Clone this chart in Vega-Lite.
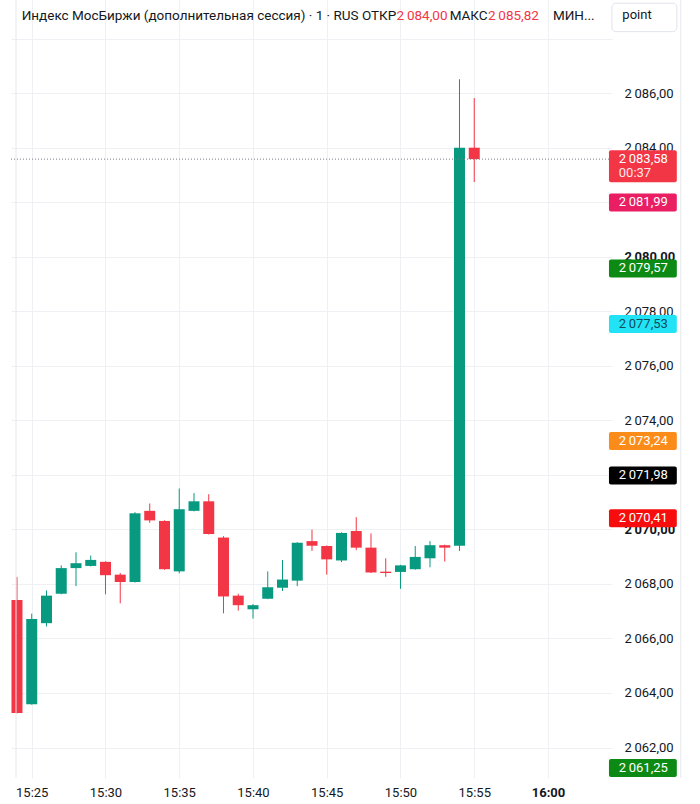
{
  "$schema": "https://vega.github.io/schema/vega-lite/v6.json",
  "description": "MOEX index, additional session, 1-minute candles",
  "width": 601,
  "height": 778,
  "autosize": "none",
  "padding": {"left": 11, "top": 0, "right": 88, "bottom": 26},
  "background": "white",
  "config": {
    "view": {"stroke": null},
    "font": "Roboto"
  },
  "datasets": {
    "candles": [
      {"t": "2024-01-01T15:24:00", "open": 2067.41, "high": 2068.26, "low": 2063.25, "close": 2063.27},
      {"t": "2024-01-01T15:25:00", "open": 2063.59, "high": 2066.91, "low": 2063.57, "close": 2066.71},
      {"t": "2024-01-01T15:26:00", "open": 2066.56, "high": 2067.76, "low": 2066.44, "close": 2067.57},
      {"t": "2024-01-01T15:27:00", "open": 2067.64, "high": 2068.68, "low": 2067.62, "close": 2068.58},
      {"t": "2024-01-01T15:28:00", "open": 2068.58, "high": 2069.16, "low": 2067.92, "close": 2068.76},
      {"t": "2024-01-01T15:29:00", "open": 2068.66, "high": 2069.04, "low": 2068.64, "close": 2068.88},
      {"t": "2024-01-01T15:30:00", "open": 2068.81, "high": 2068.83, "low": 2067.62, "close": 2068.32},
      {"t": "2024-01-01T15:31:00", "open": 2068.34, "high": 2068.4, "low": 2067.29, "close": 2068.07},
      {"t": "2024-01-01T15:32:00", "open": 2068.07, "high": 2070.63, "low": 2068.05, "close": 2070.59},
      {"t": "2024-01-01T15:33:00", "open": 2070.68, "high": 2070.95, "low": 2070.24, "close": 2070.33},
      {"t": "2024-01-01T15:34:00", "open": 2070.31, "high": 2070.33, "low": 2068.52, "close": 2068.54},
      {"t": "2024-01-01T15:35:00", "open": 2068.46, "high": 2071.5, "low": 2068.39, "close": 2070.74},
      {"t": "2024-01-01T15:36:00", "open": 2070.68, "high": 2071.33, "low": 2070.66, "close": 2071.03},
      {"t": "2024-01-01T15:37:00", "open": 2071.03, "high": 2071.29, "low": 2069.81, "close": 2069.83},
      {"t": "2024-01-01T15:38:00", "open": 2069.7, "high": 2069.75, "low": 2066.92, "close": 2067.54},
      {"t": "2024-01-01T15:39:00", "open": 2067.57, "high": 2067.64, "low": 2067.02, "close": 2067.22},
      {"t": "2024-01-01T15:40:00", "open": 2067.07, "high": 2067.26, "low": 2066.73, "close": 2067.22},
      {"t": "2024-01-01T15:41:00", "open": 2067.46, "high": 2068.46, "low": 2067.44, "close": 2067.88},
      {"t": "2024-01-01T15:42:00", "open": 2067.86, "high": 2068.88, "low": 2067.74, "close": 2068.16},
      {"t": "2024-01-01T15:43:00", "open": 2068.12, "high": 2069.53, "low": 2067.92, "close": 2069.51},
      {"t": "2024-01-01T15:44:00", "open": 2069.57, "high": 2069.99, "low": 2069.21, "close": 2069.4},
      {"t": "2024-01-01T15:45:00", "open": 2069.39, "high": 2069.41, "low": 2068.34, "close": 2068.9},
      {"t": "2024-01-01T15:46:00", "open": 2068.86, "high": 2069.89, "low": 2068.8, "close": 2069.87},
      {"t": "2024-01-01T15:47:00", "open": 2069.94, "high": 2070.45, "low": 2069.24, "close": 2069.33},
      {"t": "2024-01-01T15:48:00", "open": 2069.33, "high": 2069.85, "low": 2068.4, "close": 2068.42},
      {"t": "2024-01-01T15:49:00", "open": 2068.45, "high": 2068.94, "low": 2068.26, "close": 2068.4},
      {"t": "2024-01-01T15:50:00", "open": 2068.44, "high": 2068.7, "low": 2067.82, "close": 2068.68},
      {"t": "2024-01-01T15:51:00", "open": 2068.54, "high": 2069.39, "low": 2068.52, "close": 2068.99},
      {"t": "2024-01-01T15:52:00", "open": 2068.94, "high": 2069.57, "low": 2068.61, "close": 2069.42},
      {"t": "2024-01-01T15:53:00", "open": 2069.42, "high": 2069.44, "low": 2068.82, "close": 2069.33},
      {"t": "2024-01-01T15:54:00", "open": 2069.4, "high": 2086.51, "low": 2069.21, "close": 2084.0},
      {"t": "2024-01-01T15:55:00", "open": 2084.0, "high": 2085.82, "low": 2082.74, "close": 2083.58}
    ],
    "levels": [
      {"level": "last", "price": 2083.58, "label": "2\u2009083,58", "note": "00:37"},
      {"level": "L1", "price": 2081.99, "label": "2\u2009081,99"},
      {"level": "L2", "price": 2079.57, "label": "2\u2009079,57"},
      {"level": "L3", "price": 2077.53, "label": "2\u2009077,53"},
      {"level": "L4", "price": 2073.24, "label": "2\u2009073,24"},
      {"level": "L5", "price": 2071.98, "label": "2\u2009071,98"},
      {"level": "L6", "price": 2070.41, "label": "2\u2009070,41"},
      {"level": "L7", "price": 2061.25, "label": "2\u2009061,25"}
    ]
  },
  "layer": [
    {
      "data": {"name": "candles"},
      "mark": {"type": "rule", "strokeWidth": 1},
      "encoding": {
        "x": {
          "field": "t", "type": "temporal",
          "scale": {"domain": [
            {"year": 2024, "month": 1, "date": 1, "hours": 15, "minutes": 23, "seconds": 56},
            {"year": 2024, "month": 1, "date": 1, "hours": 16, "minutes": 4}
          ]},
          "axis": {
            "title": null, "format": "%H:%M", "tickCount": 8,
            "grid": true, "gridColor": "#eef0f3", "domain": false, "ticks": false,
            "labelPadding": 8, "labelFontSize": 13, "labelColor": "#131722", "labelFlush": false,
            "labelFontWeight": {"condition": {"test": "minutes(datum.value) === 0", "value": "bold"}, "value": "normal"}
          }
        },
        "y": {
          "field": "low", "type": "quantitative",
          "scale": {"domain": [2061.065, 2089.233], "nice": false, "zero": false},
          "axis": {
            "title": null, "orient": "right",
            "values": [2062, 2064, 2066, 2068, 2070, 2072, 2074, 2076, 2078, 2080, 2082, 2084, 2086, 2088],
            "labelExpr": "datum.value > 2087 || datum.value === 2072 || datum.value === 2082 ? '' : replace(replace(format(datum.value, ',.2f'), ',', '\u2009'), '.', ',')",
            "grid": true, "gridColor": "#eef0f3", "domain": false, "ticks": false,
            "labelPadding": 12, "labelFontSize": 13, "labelColor": "#131722",
            "labelFontWeight": {"condition": {"test": "datum.value % 10 === 0", "value": "bold"}, "value": "normal"}
          }
        },
        "y2": {"field": "high"},
        "color": {"condition": {"test": "datum.close > datum.open", "value": "#089981"}, "value": "#f23645"}
      }
    },
    {
      "data": {"name": "candles"},
      "mark": {"type": "bar", "width": 11},
      "encoding": {
        "x": {"field": "t", "type": "temporal"},
        "y": {"field": "open", "type": "quantitative"},
        "y2": {"field": "close"},
        "color": {"condition": {"test": "datum.close > datum.open", "value": "#089981"}, "value": "#f23645"}
      }
    },
    {
      "data": {"values": [{}]},
      "mark": {"type": "rule", "color": "#e6e8ec", "strokeWidth": 1},
      "encoding": {
        "x": {"datum": {"year": 2024, "month": 1, "date": 1, "hours": 15, "minutes": 23, "seconds": 56}, "type": "temporal"}
      }
    },
    {
      "data": {"values": [{}]},
      "mark": {"type": "rule", "color": "#e6e8ec", "strokeWidth": 1},
      "encoding": {
        "x": {"datum": {"year": 2024, "month": 1, "date": 1, "hours": 16, "minutes": 9, "seconds": 0}, "type": "temporal"}
      }
    },
    {
      "data": {"name": "levels"},
      "transform": [{"filter": "datum.level === 'last'"}],
      "mark": {"type": "rule", "strokeDash": [1, 2], "color": "#787b86", "strokeWidth": 1},
      "encoding": {"y": {"field": "price", "type": "quantitative"}}
    },
    {
      "data": {"name": "levels"},
      "transform": [{"filter": "datum.level !== 'last'"}],
      "mark": {"type": "bar", "height": 18, "cornerRadius": 2},
      "encoding": {
        "x": {"datum": {"year": 2024, "month": 1, "date": 1, "hours": 16, "minutes": 4, "seconds": 8}, "type": "temporal"},
        "x2": {"datum": {"year": 2024, "month": 1, "date": 1, "hours": 16, "minutes": 8, "seconds": 44}},
        "y": {"field": "price", "type": "quantitative"},
        "color": {
          "field": "level", "type": "nominal", "legend": null,
          "scale": {
            "domain": ["last", "L1", "L2", "L3", "L4", "L5", "L6", "L7"],
            "range": ["#f23645", "#e91e63", "#0c8a14", "#22e3f5", "#fb8c1a", "#000000", "#f70d0d", "#0c8a14"]
          }
        }
      }
    },
    {
      "data": {"name": "levels"},
      "transform": [{"filter": "datum.level === 'last'"}],
      "mark": {"type": "bar", "height": 32, "cornerRadius": 2, "yOffset": 7},
      "encoding": {
        "x": {"datum": {"year": 2024, "month": 1, "date": 1, "hours": 16, "minutes": 4, "seconds": 8}, "type": "temporal"},
        "x2": {"datum": {"year": 2024, "month": 1, "date": 1, "hours": 16, "minutes": 8, "seconds": 44}},
        "y": {"field": "price", "type": "quantitative"},
        "color": {"field": "level", "type": "nominal", "legend": null}
      }
    },
    {
      "data": {"name": "levels"},
      "mark": {"type": "text", "align": "left", "baseline": "middle", "fontSize": 13},
      "encoding": {
        "x": {"datum": {"year": 2024, "month": 1, "date": 1, "hours": 16, "minutes": 4, "seconds": 48}, "type": "temporal"},
        "y": {"field": "price", "type": "quantitative"},
        "text": {"field": "label"},
        "color": {"condition": {"test": "datum.level === 'L3'", "value": "#0f4c5c"}, "value": "#ffffff"}
      }
    },
    {
      "data": {"name": "levels"},
      "transform": [{"filter": "datum.level === 'last'"}],
      "mark": {"type": "text", "align": "left", "baseline": "middle", "fontSize": 13, "dy": 14, "color": "#ffe8ea"},
      "encoding": {
        "x": {"datum": {"year": 2024, "month": 1, "date": 1, "hours": 16, "minutes": 4, "seconds": 48}, "type": "temporal"},
        "y": {"field": "price", "type": "quantitative"},
        "text": {"field": "note"}
      }
    },
    {
      "data": {"values": [{}]},
      "mark": {"type": "rect", "fill": "white", "stroke": "#e0e3eb", "strokeWidth": 1, "cornerRadius": 4},
      "encoding": {
        "x": {"datum": {"year": 2024, "month": 1, "date": 1, "hours": 16, "minutes": 4, "seconds": 20}, "type": "temporal"},
        "x2": {"datum": {"year": 2024, "month": 1, "date": 1, "hours": 16, "minutes": 8, "seconds": 44}},
        "y": {"datum": 2089.3},
        "y2": {"datum": 2088.255}
      }
    },
    {
      "data": {"values": [{}]},
      "mark": {"type": "text", "text": "point", "align": "center", "baseline": "middle", "fontSize": 13, "color": "#131722"},
      "encoding": {
        "x": {"datum": {"year": 2024, "month": 1, "date": 1, "hours": 16, "minutes": 6, "seconds": 2}, "type": "temporal"},
        "y": {"datum": 2088.85}
      }
    },
    {
      "data": {"values": [{}]},
      "mark": {"type": "text", "text": "Индекс МосБиржи (дополнительная сессия) · 1 · RUS  ОТКР", "align": "left", "baseline": "middle", "fontSize": 13.5, "color": "#131722"},
      "encoding": {
        "x": {"datum": {"year": 2024, "month": 1, "date": 1, "hours": 15, "minutes": 24, "seconds": 19}, "type": "temporal"},
        "y": {"datum": 2088.82}
      }
    },
    {
      "data": {"values": [{}]},
      "mark": {"type": "text", "text": "2\u2009084,00", "align": "left", "baseline": "middle", "fontSize": 13.5, "color": "#f23645"},
      "encoding": {
        "x": {"datum": {"year": 2024, "month": 1, "date": 1, "hours": 15, "minutes": 49, "seconds": 44}, "type": "temporal"},
        "y": {"datum": 2088.82}
      }
    },
    {
      "data": {"values": [{}]},
      "mark": {"type": "text", "text": "МАКС", "align": "left", "baseline": "middle", "fontSize": 13.5, "color": "#131722"},
      "encoding": {
        "x": {"datum": {"year": 2024, "month": 1, "date": 1, "hours": 15, "minutes": 53, "seconds": 20}, "type": "temporal"},
        "y": {"datum": 2088.82}
      }
    },
    {
      "data": {"values": [{}]},
      "mark": {"type": "text", "text": "2\u2009085,82", "align": "left", "baseline": "middle", "fontSize": 13.5, "color": "#f23645"},
      "encoding": {
        "x": {"datum": {"year": 2024, "month": 1, "date": 1, "hours": 15, "minutes": 55, "seconds": 56}, "type": "temporal"},
        "y": {"datum": 2088.82}
      }
    },
    {
      "data": {"values": [{}]},
      "mark": {"type": "text", "text": "МИН...", "align": "left", "baseline": "middle", "fontSize": 13.5, "color": "#131722"},
      "encoding": {
        "x": {"datum": {"year": 2024, "month": 1, "date": 1, "hours": 16, "minutes": 0, "seconds": 20}, "type": "temporal"},
        "y": {"datum": 2088.82}
      }
    }
  ]
}
